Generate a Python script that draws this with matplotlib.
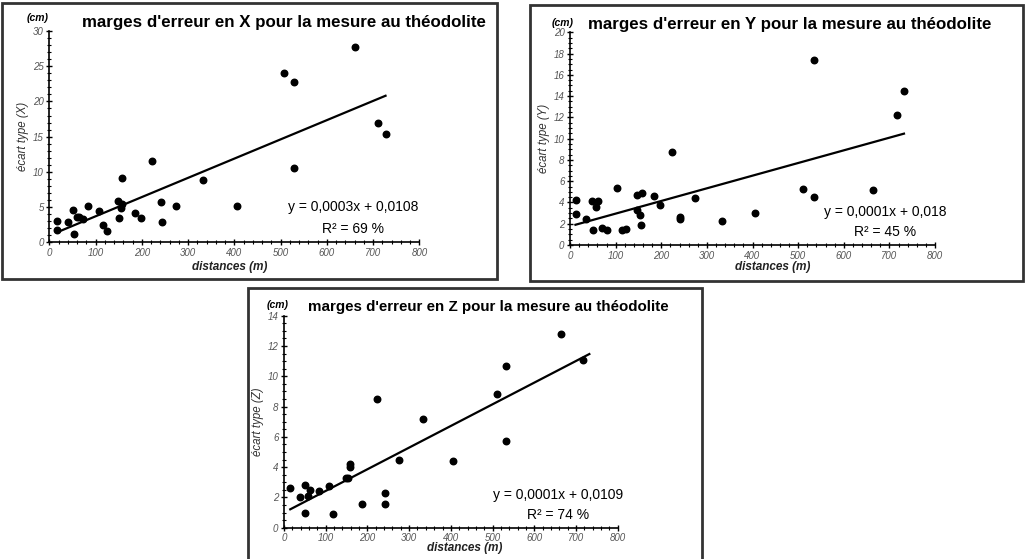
import matplotlib
matplotlib.use("Agg")
from matplotlib import pyplot as plt
from matplotlib.patches import Rectangle
from matplotlib.ticker import MultipleLocator

# Data (distances in m, standard deviation in cm)
dist_x = [17, 17, 40, 52, 53, 60, 65, 72, 84, 107, 117, 125, 148, 151, 155, 157, 157,
          185, 199, 223, 241, 243, 274, 332, 405, 508, 530, 530, 660, 711, 727]
ecart_x = [3.0, 1.8, 2.9, 4.6, 1.2, 3.6, 3.6, 3.3, 5.1, 4.5, 2.4, 1.6, 5.9, 3.4, 4.8, 5.4, 9.1,
           4.1, 3.5, 11.6, 5.7, 2.9, 5.1, 8.8, 5.1, 24.1, 22.8, 10.6, 27.7, 16.9, 15.4]

dist_y = [14, 14, 36, 49, 50, 56, 62, 70, 82, 104, 115, 122, 146, 146, 153, 155, 157,
          184, 197, 223, 240, 242, 274, 333, 406, 510, 534, 534, 664, 717, 731]
ecart_y = [4.2, 2.9, 2.4, 4.1, 1.4, 3.6, 4.1, 1.6, 1.4, 5.4, 1.4, 1.5, 4.7, 3.3, 2.8, 1.9, 4.9,
           4.6, 3.8, 8.7, 2.4, 2.6, 4.4, 2.3, 3.0, 5.3, 4.5, 17.4, 5.2, 12.2, 14.5]

dist_z = [15, 38, 51, 51, 57, 62, 84, 107, 118, 148, 153, 158, 159, 186, 224, 241, 243,
          275, 333, 406, 510, 533, 533, 663, 717]
ecart_z = [2.6, 2.0, 2.8, 0.95, 2.1, 2.5, 2.4, 2.75, 0.9, 3.25, 3.25, 4.2, 4.0, 1.55, 8.5, 2.3, 1.55,
           4.5, 7.2, 4.4, 8.8, 10.7, 5.7, 12.8, 11.1]

# trend lines as drawn (slope, intercept, x range)
trend_x = (0.0273, 0.96, 17, 727)
trend_y = (0.0119, 1.76, 12, 732)
trend_z = (0.0143, 1.0, 15, 732)

labels_eq = ["y = 0,0003x + 0,0108", "y = 0,0001x + 0,018", "y = 0,0001x + 0,0109"]
labels_r2 = ["R\u00b2 = 69 %", "R\u00b2 = 45 %", "R\u00b2 = 74 %"]
axis_names = ["X", "Y", "Z"]

W, H = 1030, 559
plt.rcParams['font.family'] = ['Liberation Sans', 'DejaVu Sans']

fig = plt.figure(figsize=(W / 100, H / 100), dpi=100)


def px(x, y):
    return x / W, 1 - y / H


def box(x0, y0, x1, y1):
    fig.patches.append(Rectangle(px(x0, y1), (x1 - x0) / W, (y1 - y0) / H,
                                 transform=fig.transFigure, fill=False,
                                 edgecolor='#333333', linewidth=2))


def panel(rect, dist, ecart, trend, ymax, ymajor, yminor, name, eq, r2, eq_pos):
    l, t, r, b = rect
    ax = fig.add_axes([l / W, 1 - b / H, (r - l) / W, (b - t) / H])
    ax.scatter(dist, ecart, s=22, color='black', zorder=3)
    a, c, x0, x1 = trend
    ax.plot([x0, x1], [a * x0 + c, a * x1 + c], color='black', lw=1.6)
    ax.set_xlim(0, 800)
    ax.set_ylim(0, ymax)
    ax.xaxis.set_major_locator(MultipleLocator(100))
    ax.xaxis.set_minor_locator(MultipleLocator(20))
    ax.yaxis.set_major_locator(MultipleLocator(ymajor))
    ax.yaxis.set_minor_locator(MultipleLocator(yminor))
    for s in ['top', 'right']:
        ax.spines[s].set_visible(False)
    for s in ['left', 'bottom']:
        ax.spines[s].set_linewidth(1.2)
    ax.tick_params(which='major', direction='inout', length=4, width=1, labelsize=7,
                   labelcolor='#555555', pad=2)
    ax.tick_params(which='minor', direction='inout', length=3, width=0.8)
    for lab in ax.get_xticklabels() + ax.get_yticklabels():
        lab.set_fontstyle('italic')
    ax.set_ylabel("\u00e9cart type (" + name + ")", fontsize=8.3, style='italic',
                  color='#333333', labelpad=3)
    ax.text(eq_pos[0], eq_pos[1], eq, ha='center', va='center', fontsize=10)
    ax.text(eq_pos[0], eq_pos[1] - eq_pos[2], r2, ha='center', va='center', fontsize=10)
    return ax


# panel X
box(2, 3, 497, 279)
panel((49.3, 31, 419.3, 242.3), dist_x, ecart_x, trend_x, 30, 5, 1, "X",
      labels_eq[0], labels_r2[0], (657, 5.0, 3.1))
fig.text(*px(284, 23), "marges d'erreur en X pour la mesure au th\u00e9odolite",
         ha='center', va='center', fontsize=12.2, fontweight='bold')
fig.text(*px(38, 18), "(cm)", ha='center', va='center', fontsize=7.5,
         style='italic', fontweight='bold')
fig.text(*px(230, 267), "distances (m)", ha='center', va='center', fontsize=8.5,
         style='italic', fontweight='bold', color='#222222')

# panel Y
box(530, 5, 1023, 281)
panel((570, 32.3, 935, 245), dist_y, ecart_y, trend_y, 20, 2, 0.5, "Y",
      labels_eq[1], labels_r2[1], (690, 3.1, 1.9))
fig.text(*px(790, 25), "marges d'erreur en Y pour la mesure au th\u00e9odolite",
         ha='center', va='center', fontsize=12.2, fontweight='bold')
fig.text(*px(563, 23), "(cm)", ha='center', va='center', fontsize=7.5,
         style='italic', fontweight='bold')
fig.text(*px(773, 267), "distances (m)", ha='center', va='center', fontsize=8.5,
         style='italic', fontweight='bold', color='#222222')

# panel Z
box(248, 288, 702, 580)
panel((284, 315.7, 617.7, 527.7), dist_z, ecart_z, trend_z, 14, 2, 0.5, "Z",
      labels_eq[2], labels_r2[2], (656, 2.16, 1.32))
fig.text(*px(488, 307), "marges d'erreur en Z pour la mesure au th\u00e9odolite",
         ha='center', va='center', fontsize=10.9, fontweight='bold')
fig.text(*px(278, 305), "(cm)", ha='center', va='center', fontsize=7.5,
         style='italic', fontweight='bold')
fig.text(*px(465, 548), "distances (m)", ha='center', va='center', fontsize=8.5,
         style='italic', fontweight='bold', color='#222222')

fig.savefig("out.png", dpi=100)
